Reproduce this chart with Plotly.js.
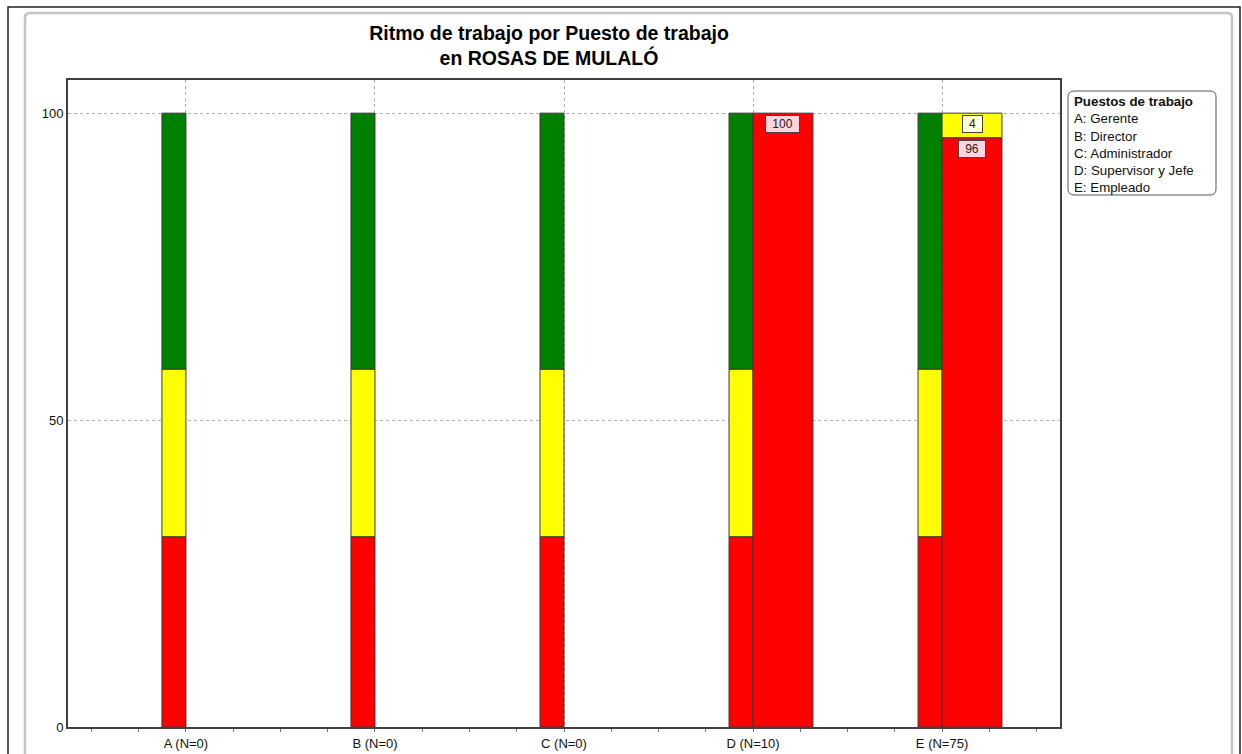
<!DOCTYPE html>
<html>
<head>
<meta charset="utf-8">
<script src="https://cdn.plot.ly/plotly-3.0.1.min.js"></script>
<style>
html,body{margin:0;padding:0;background:#fff;}
#chart{width:1242px;height:754px;}
</style>
</head>
<body>
<div id="chart"></div>
<script>
// ---- data ----
const categories = ['A (N=0)', 'B (N=0)', 'C (N=0)', 'D (N=10)', 'E (N=75)'];
const positions = ['A: Gerente', 'B: Director', 'C: Administrador', 'D: Supervisor y Jefe', 'E: Empleado'];
const refRed = [31, 31, 31, 31, 31];
const refYellow = [27.3, 27.3, 27.3, 27.3, 27.3];
const refGreen = [41.7, 41.7, 41.7, 41.7, 41.7];
const dataRed = [0, 0, 0, 100, 96];
const dataYellow = [0, 0, 0, 0, 4];
const dataGreen = [0, 0, 0, 0, 0];
const titleText = 'Ritmo de trabajo por Puesto de trabajo<br>en ROSAS DE MULALÓ';
const legendTitle = 'Puestos de trabajo';

// ---- layout constants ----
const W = 1242, H = 754;
const M = {l: 68, r: 182, t: 80, b: 27};
const PW = W - M.l - M.r, PH = H - M.t - M.b;
const px = x => (x - M.l) / PW;
const py = y => (H - M.b - y) / PH;
const FONT = '"Liberation Sans", Arial, sans-serif';
const RED = '#ff0000', YEL = '#ffff00', GRN = '#008000';
const xs = categories.map((c, i) => i);
const refW = 0.127, dataW = 0.317;

function add(a, b) { return a.map((v, i) => v + b[i]); }

function barTrace(vals, base, color, offset, width, name) {
  return {
    type: 'bar', x: xs, y: vals.map(v => v > 0 ? v : null), base: base, offset: offset, width: width,
    marker: {color: color, line: {color: '#3a3a3a', width: vals.map(v => v > 0 ? 1 : 0)}},
    name: name, showlegend: false, hoverinfo: 'skip'
  };
}
const zeros = categories.map(() => 0);
const traces = [
  barTrace(refRed, zeros, RED, -refW, refW, 'ref rojo'),
  barTrace(refYellow, refRed, YEL, -refW, refW, 'ref amarillo'),
  barTrace(refGreen, add(refRed, refYellow), GRN, -refW, refW, 'ref verde'),
  barTrace(dataRed, zeros, RED, 0, dataW, 'rojo'),
  barTrace(dataYellow, dataRed, YEL, 0, dataW, 'amarillo'),
  barTrace(dataGreen, add(dataRed, dataYellow), GRN, 0, dataW, 'verde')
];

// value labels near the top of each non-empty segment
const annotations = [];
const segs = [
  {vals: dataRed, base: zeros, bg: '#ffd4dc'},
  {vals: dataYellow, base: dataRed, bg: '#ffffd8'},
  {vals: dataGreen, base: add(dataRed, dataYellow), bg: '#d4f0d4'}
];
segs.forEach(s => {
  s.vals.forEach((v, i) => {
    if (v > 0) {
      annotations.push({
        x: i + dataW / 2, y: s.base[i] + v, xref: 'x', yref: 'y',
        text: String(v), showarrow: false, yanchor: 'top', yshift: -2,
        font: {family: FONT, size: 12, color: '#222'},
        bgcolor: s.bg, bordercolor: '#444', borderwidth: 1, borderpad: 1,
        width: String(v).length * 7 + 10
      });
    }
  });
});
// legend box text
annotations.push({
  x: px(1072), y: py(92), xref: 'paper', yref: 'paper',
  xanchor: 'left', yanchor: 'top', align: 'left', showarrow: false,
  text: '<b>' + legendTitle + '</b><br>' + positions.join('<br>'),
  font: {family: FONT, size: 13.3, color: '#111'}
});

function roundRect(x0, y0, x1, y1, r) {
  const X = v => px(v), Y = v => py(v);
  return `M ${X(x0 + r)},${Y(y0)} L ${X(x1 - r)},${Y(y0)} Q ${X(x1)},${Y(y0)} ${X(x1)},${Y(y0 + r)} ` +
    `L ${X(x1)},${Y(y1 - r)} Q ${X(x1)},${Y(y1)} ${X(x1 - r)},${Y(y1)} ` +
    `L ${X(x0 + r)},${Y(y1)} Q ${X(x0)},${Y(y1)} ${X(x0)},${Y(y1 - r)} ` +
    `L ${X(x0)},${Y(y0 + r)} Q ${X(x0)},${Y(y0)} ${X(x0 + r)},${Y(y0)} Z`;
}

const shapes = [
  // outer dark frame
  {type: 'path', xref: 'paper', yref: 'paper', path: `M ${px(8)},${py(760)} L ${px(8)},${py(7)} L ${px(1240)},${py(7)} L ${px(1240)},${py(760)}`,
    line: {color: '#222', width: 1.5}, layer: 'above'},
  // inner grey rounded frame
  {type: 'path', xref: 'paper', yref: 'paper', path: roundRect(25, 13, 1232, 800, 5),
    line: {color: '#c4c4c4', width: 2.5}, layer: 'below'},
  // legend rounded box
  {type: 'path', xref: 'paper', yref: 'paper', path: roundRect(1068, 91, 1216, 195, 6),
    line: {color: '#555', width: 1}, fillcolor: '#fff'}
];

const layout = {
  width: W, height: H,
  margin: M,
  paper_bgcolor: '#fff', plot_bgcolor: '#fff',
  barmode: 'overlay',
  showlegend: false,
  font: {family: FONT, size: 13, color: '#111'},
  title: {
    text: '<b>' + titleText + '</b>',
    font: {family: FONT, size: 19.5, color: '#000'},
    xref: 'container', yref: 'container',
    x: 549 / W, xanchor: 'center', y: 1 - 40 / H, yanchor: 'middle'
  },
  xaxis: {
    type: 'linear', range: [-0.624, 4.624],
    tickvals: xs, ticktext: categories,
    tickfont: {family: FONT, size: 13, color: '#111'},
    showgrid: true, gridcolor: '#b0b0b0', griddash: 'dot', gridwidth: 1,
    zeroline: false,
    showline: true, linecolor: '#404040', linewidth: 2, mirror: true,
    ticks: 'outside', ticklen: 3, tickcolor: '#666',
    minor: {dtick: 0.25, tick0: 0, ticks: 'outside', ticklen: 3, tickcolor: '#777', showgrid: false},
    fixedrange: true
  },
  yaxis: {
    range: [0, 105.4],
    tickvals: [0, 50, 100], ticktext: ['0', '50', '100'],
    tickfont: {family: FONT, size: 13, color: '#111'},
    showgrid: true, gridcolor: '#b0b0b0', griddash: 'dot', gridwidth: 1,
    zeroline: false,
    showline: true, linecolor: '#404040', linewidth: 2, mirror: true,
    ticks: '', ticklen: 0,
    fixedrange: true
  },
  annotations: annotations,
  shapes: shapes
};

Plotly.newPlot('chart', traces, layout, {displayModeBar: false, staticPlot: true});
</script>
</body>
</html>
